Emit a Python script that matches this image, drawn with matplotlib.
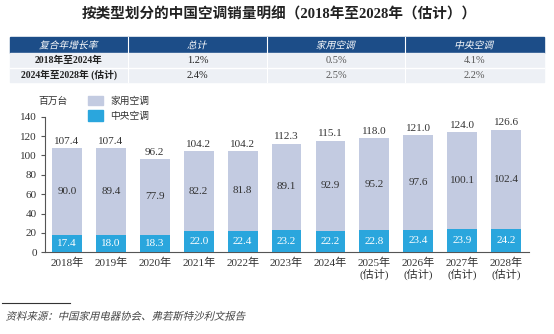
import numpy as np
import matplotlib
matplotlib.use('Agg')
import matplotlib.pyplot as plt
from matplotlib.patches import Rectangle, PathPatch
from matplotlib.textpath import TextPath
from matplotlib.font_manager import FontProperties
from matplotlib.transforms import Affine2D

plt.rcParams['font.family'] = ['Liberation Serif', 'Noto Sans CJK SC', 'DejaVu Sans']

# data
years = ['2018年', '2019年', '2020年', '2021年', '2022年', '2023年', '2024年',
         '2025年\n(估计)', '2026年\n(估计)', '2027年\n(估计)', '2028年\n(估计)']
totals = [107.4, 107.4, 96.2, 104.2, 104.2, 112.3, 115.1, 118.0, 121.0, 124.0, 126.6]
household = [90.0, 89.4, 77.9, 82.2, 81.8, 89.1, 92.9, 95.2, 97.6, 100.1, 102.4]
central = [17.4, 18.0, 18.3, 22.0, 22.4, 23.2, 22.2, 22.8, 23.4, 23.9, 24.2]

table_header = ['复合年增长率', '总计', '家用空调', '中央空调']
table_rows = [['2018年至2024年', '1.2%', '0.5%', '4.1%'],
              ['2024年至2028年 (估计)', '2.4%', '2.5%', '2.2%']]

c_house = '#c3cbe1'
c_central = '#2aa6dd'
c_header = '#1c4d88'
c_body = '#edf0f5'
c_text = '#333333'

W, H = 554, 334
fig = plt.figure(figsize=(W / 100, H / 100), dpi=100)
cjk = ['Noto Sans CJK SC', 'DejaVu Sans']


def fx(px):
    return px / W


def fy(py):
    return 1 - py / H


def italic_text(xp, yp, s, size, color, ha='left'):
    # CJK font has no italic face, so slant the glyph outlines
    tp = TextPath((0, 0), s, size=size, prop=FontProperties(family=cjk))
    ext = tp.get_extents()
    dx = -ext.x0 if ha == 'left' else -(ext.x0 + ext.x1) / 2
    dy = -size * 0.36
    tr = (Affine2D().translate(dx, dy).skew_deg(14, 0).scale(1 / 72)
          .translate(xp / 100, (H - yp) / 100) + fig.dpi_scale_trans)
    fig.patches.append(PathPatch(tp, transform=tr, color=color, lw=0, zorder=5))


# title
fig.text(fx(279), fy(14), '按类型划分的中国空调销量明细（2018年至2028年（估计））',
         ha='center', va='center', fontsize=10.5, fontweight='bold', color='#222222')

# table
col_x = [10, 128, 267, 405, 544]
row_y = [37, 53, 68, 82]
fig.patches.append(Rectangle((fx(col_x[0]), fy(row_y[1])), fx(col_x[-1] - col_x[0]),
                             (row_y[1] - row_y[0]) / H, transform=fig.transFigure,
                             color=c_header, zorder=1))
fig.patches.append(Rectangle((fx(col_x[0]), fy(row_y[3])), fx(col_x[-1] - col_x[0]),
                             (row_y[3] - row_y[1]) / H, transform=fig.transFigure,
                             color=c_body, zorder=1))
for xl in col_x[1:-1]:
    fig.lines.append(plt.Line2D([fx(xl), fx(xl)], [fy(row_y[0]), fy(row_y[3])],
                                transform=fig.transFigure, color='white', lw=0.8, zorder=2))
fig.lines.append(plt.Line2D([fx(col_x[0]), fx(col_x[-1])], [fy(row_y[2]), fy(row_y[2])],
                            transform=fig.transFigure, color='white', lw=1.0, zorder=2))

for i, h in enumerate(table_header):
    cx = (col_x[i] + col_x[i + 1]) / 2
    italic_text(cx, (row_y[0] + row_y[1]) / 2, h, 7, 'white', ha='center')
for r, row in enumerate(table_rows):
    cy = (row_y[r + 1] + row_y[r + 2]) / 2
    for i, v in enumerate(row):
        cx = (col_x[i] + col_x[i + 1]) / 2
        fig.text(fx(cx), fy(cy), v, ha='center', va='center',
                 fontsize=7 if i == 0 else 7.5,
                 color='#222222' if i < 2 else '#555555',
                 fontweight='bold' if i == 0 else 'normal')

# chart
ax = fig.add_axes([fx(45), fy(252.3), fx(529 - 45), (252.3 - 116.7) / H])
x = np.arange(len(years))
bw = 0.68
ax.bar(x, totals, width=bw, color=c_house, zorder=2)
ax.bar(x, central, width=bw, color=c_central, zorder=3)

for i in range(len(years)):
    ax.text(x[i], totals[i] + 2.5, '%.1f' % totals[i], ha='center', va='bottom',
            fontsize=8, color=c_text)
    ax.text(x[i], (central[i] + totals[i]) / 2, '%.1f' % household[i], ha='center',
            va='center', fontsize=8, color=c_text, zorder=4)
    ax.text(x[i], central[i] / 2, '%.1f' % central[i], ha='center', va='center',
            fontsize=8, color='white', zorder=4)

ax.set_xlim(-0.5, 10.52)
ax.set_ylim(0, 140)
ax.set_yticks(np.arange(0, 141, 20))
ax.set_xticks(x)
ax.set_xticklabels(years, fontsize=8, color=c_text, linespacing=1.1)
ax.tick_params(axis='x', length=0, pad=4)
ax.tick_params(axis='y', length=3, labelsize=8, labelcolor=c_text, color='#555555', pad=3)
for s in ['top', 'right']:
    ax.spines[s].set_visible(False)
for s in ['left', 'bottom']:
    ax.spines[s].set_color('#555555')
    ax.spines[s].set_linewidth(0.8)

# legend
fig.text(fx(38), fy(101), '百万台', ha='left', va='center', fontsize=7, color=c_text, family=cjk)
fig.patches.append(Rectangle((fx(88), fy(105)), fx(15), 9 / H, transform=fig.transFigure,
                             color=c_house))
fig.patches.append(Rectangle((fx(88), fy(121)), fx(15), 11 / H, transform=fig.transFigure,
                             color=c_central))
fig.text(fx(110), fy(100.5), '家用空调', ha='left', va='center', fontsize=7, color=c_text, family=cjk)
fig.text(fx(110), fy(115.5), '中央空调', ha='left', va='center', fontsize=7, color=c_text, family=cjk)

# source
fig.lines.append(plt.Line2D([fx(2), fx(70)], [fy(303), fy(303)], transform=fig.transFigure,
                            color='#333333', lw=0.8))
italic_text(7, 316, '资料来源：中国家用电器协会、弗若斯特沙利文报告', 7.5, '#444444')

fig.savefig('out.png', dpi=100)
